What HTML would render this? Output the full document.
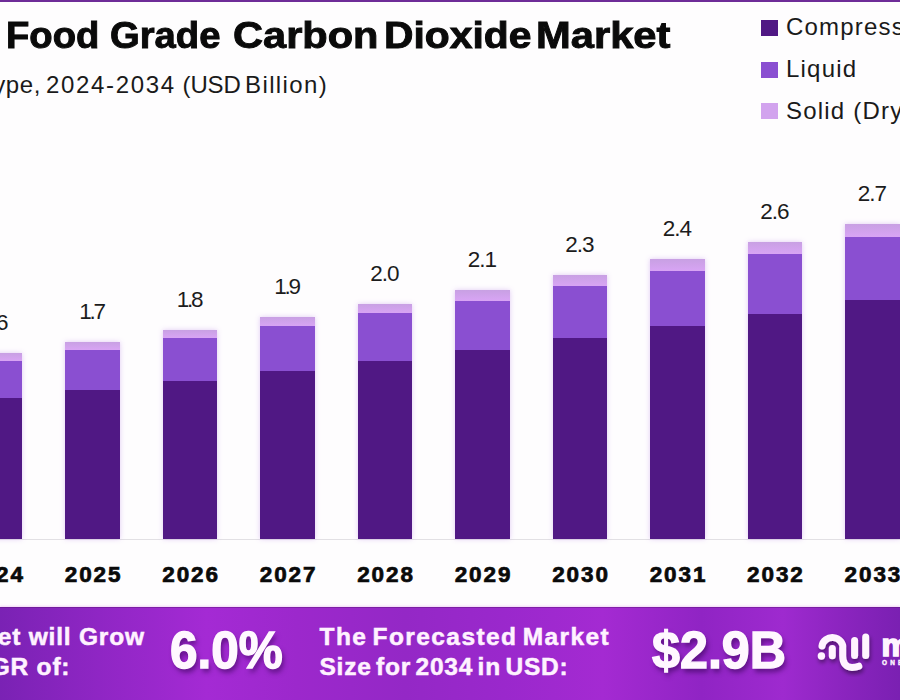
<!DOCTYPE html>
<html><head><meta charset="utf-8">
<style>
html,body{margin:0;padding:0;}
body{width:900px;height:700px;overflow:hidden;position:relative;background:#fefdfe;font-family:"Liberation Sans",sans-serif;}
.topline{position:absolute;left:0;top:0;width:900px;height:2px;background:#6e2c98;}
.title{position:absolute;left:6px;top:17.5px;font-size:36px;line-height:36px;font-weight:bold;color:#0a0a0a;white-space:nowrap;transform-origin:0 0;-webkit-text-stroke:0.9px #0a0a0a;}
.sub{position:absolute;left:-25.4px;top:73.2px;font-size:24px;line-height:24px;color:#1a1a1a;letter-spacing:0.9px;white-space:nowrap;}
.leg{position:absolute;left:786px;font-size:24px;line-height:24px;color:#1a1a1a;white-space:nowrap;letter-spacing:1.2px;}
.sq{position:absolute;left:761px;width:17px;height:16px;}
.seg{position:absolute;width:54.5px;}
.sh{box-shadow:0 0 5px rgba(190,140,230,0.45);}
.val{position:absolute;width:100px;text-align:center;font-size:22.5px;line-height:22.5px;color:#1c1c1c;letter-spacing:-2px;white-space:nowrap;}
.yr{position:absolute;width:100px;text-align:center;font-size:22.5px;line-height:22.5px;font-weight:bold;color:#0a0a0a;letter-spacing:1.9px;white-space:nowrap;-webkit-text-stroke:0.7px #0a0a0a;}
.axis{position:absolute;left:0;top:539px;width:900px;height:1px;background:#e2e0e4;}
.banner{position:absolute;left:0;top:607px;width:900px;height:93px;box-shadow:inset 0 1px 0 rgba(90,20,120,0.45),0 -1px 2px rgba(230,170,240,0.5);
 background:linear-gradient(90deg,#7a22b4 0%,#8f26c4 11%,#a42ad4 23%,#9c28cc 33%,#9428c6 45%,#9a28cc 56%,#a42ad2 67%,#9024c4 78%,#9e2acf 87%,#8a24be 94%,#7a20b2 100%);}
.btxt{position:absolute;font-size:24.5px;line-height:24.5px;font-weight:bold;color:#fff2ff;white-space:nowrap;letter-spacing:0.3px;-webkit-text-stroke:0.5px #fff2ff;}
.big{position:absolute;font-size:51px;line-height:51px;font-weight:bold;color:#fff8ff;white-space:nowrap;-webkit-text-stroke:1.4px #fff8ff;text-shadow:2px 4px 5px rgba(50,0,80,0.6);}
</style></head><body>
<div class="topline"></div>
<div class="title" style="left:6.18px;transform:scaleX(1.0619)">Food</div><div class="title" style="left:109.64px;transform:scaleX(1.0618)">Grade</div><div class="title" style="left:232.85px;transform:scaleX(1.1545)">Carbon</div><div class="title" style="left:383.73px;transform:scaleX(1.1339)">Dioxide</div><div class="title" style="left:535.68px;transform:scaleX(1.1579)">Market</div>
<div class="sub" style="left:auto;right:859px;text-align:right;letter-spacing:0.6px">Type,</div><div class="sub" style="left:46px;letter-spacing:1.65px">2024-2034</div><div class="sub" style="left:182.5px;letter-spacing:-0.1px">(USD</div><div class="sub" style="left:245px;letter-spacing:1.4px">Billion)</div>
<div class="sq" style="top:20.4px;background:#501884"></div>
<div class="sq" style="top:62.2px;background:#8a4fd1"></div>
<div class="sq" style="top:103.2px;background:#d2a3ee"></div>
<div class="leg" style="top:15.0px">Compressed Gas</div>
<div class="leg" style="top:56.7px">Liquid</div>
<div class="leg" style="top:98.5px">Solid (Dry Ice)</div>
<div class="axis"></div>
<div class="seg sh" style="left:-32.1px;top:353px;height:186.0px;background:linear-gradient(#c8a0e3,#d8a4f4 8.0px)"></div>
<div class="seg" style="left:-32.1px;top:361px;height:178.0px;background:#8a4fd1"></div>
<div class="seg" style="left:-32.1px;top:398px;height:141.0px;background:#501884"></div>
<div class="val" style="left:-56.0px;top:312.0px;letter-spacing:-2.2px">1.6</div>
<div class="yr" style="left:-53.9px;top:564.0px">2024</div>
<div class="seg sh" style="left:65.4px;top:342px;height:197.0px;background:linear-gradient(#c8a0e3,#d8a4f4 8.0px)"></div>
<div class="seg" style="left:65.4px;top:350px;height:189.0px;background:#8a4fd1"></div>
<div class="seg" style="left:65.4px;top:389.6px;height:149.4px;background:#501884"></div>
<div class="val" style="left:41.5px;top:301.0px;letter-spacing:-2.2px">1.7</div>
<div class="yr" style="left:43.6px;top:564.0px">2025</div>
<div class="seg sh" style="left:162.8px;top:330px;height:209.0px;background:linear-gradient(#c8a0e3,#d8a4f4 8.0px)"></div>
<div class="seg" style="left:162.8px;top:338px;height:201.0px;background:#8a4fd1"></div>
<div class="seg" style="left:162.8px;top:380.5px;height:158.5px;background:#501884"></div>
<div class="val" style="left:139.0px;top:289.0px;letter-spacing:-2.2px">1.8</div>
<div class="yr" style="left:141.1px;top:564.0px">2026</div>
<div class="seg sh" style="left:260.3px;top:317.3px;height:221.7px;background:linear-gradient(#c8a0e3,#d8a4f4 9.0px)"></div>
<div class="seg" style="left:260.3px;top:326.3px;height:212.7px;background:#8a4fd1"></div>
<div class="seg" style="left:260.3px;top:370.5px;height:168.5px;background:#501884"></div>
<div class="val" style="left:236.5px;top:276.3px;letter-spacing:-2.2px">1.9</div>
<div class="yr" style="left:238.6px;top:564.0px">2027</div>
<div class="seg sh" style="left:357.8px;top:304px;height:235.0px;background:linear-gradient(#c8a0e3,#d8a4f4 9.0px)"></div>
<div class="seg" style="left:357.8px;top:313px;height:226.0px;background:#8a4fd1"></div>
<div class="seg" style="left:357.8px;top:361px;height:178.0px;background:#501884"></div>
<div class="val" style="left:334.5px;top:263.0px;letter-spacing:-1.0px">2.0</div>
<div class="yr" style="left:336.0px;top:564.0px">2028</div>
<div class="seg sh" style="left:455.3px;top:289.6px;height:249.4px;background:linear-gradient(#c8a0e3,#d8a4f4 10.9px)"></div>
<div class="seg" style="left:455.3px;top:300.5px;height:238.5px;background:#8a4fd1"></div>
<div class="seg" style="left:455.3px;top:349.7px;height:189.3px;background:#501884"></div>
<div class="val" style="left:432.0px;top:248.6px;letter-spacing:-1.0px">2.1</div>
<div class="yr" style="left:433.5px;top:564.0px">2029</div>
<div class="seg sh" style="left:552.7px;top:274.7px;height:264.3px;background:linear-gradient(#c8a0e3,#d8a4f4 10.9px)"></div>
<div class="seg" style="left:552.7px;top:285.6px;height:253.4px;background:#8a4fd1"></div>
<div class="seg" style="left:552.7px;top:337.8px;height:201.2px;background:#501884"></div>
<div class="val" style="left:529.5px;top:233.7px;letter-spacing:-1.0px">2.3</div>
<div class="yr" style="left:531.0px;top:564.0px">2030</div>
<div class="seg sh" style="left:650.2px;top:258.5px;height:280.5px;background:linear-gradient(#c8a0e3,#d8a4f4 12.1px)"></div>
<div class="seg" style="left:650.2px;top:270.6px;height:268.4px;background:#8a4fd1"></div>
<div class="seg" style="left:650.2px;top:326px;height:213.0px;background:#501884"></div>
<div class="val" style="left:627.0px;top:217.5px;letter-spacing:-1.0px">2.4</div>
<div class="yr" style="left:628.5px;top:564.0px">2031</div>
<div class="seg sh" style="left:747.7px;top:242.3px;height:296.7px;background:linear-gradient(#c8a0e3,#d8a4f4 11.7px)"></div>
<div class="seg" style="left:747.7px;top:254px;height:285.0px;background:#8a4fd1"></div>
<div class="seg" style="left:747.7px;top:313.5px;height:225.5px;background:#501884"></div>
<div class="val" style="left:724.4px;top:201.3px;letter-spacing:-1.0px">2.6</div>
<div class="yr" style="left:725.9px;top:564.0px">2032</div>
<div class="seg sh" style="left:845.2px;top:224px;height:315.0px;background:linear-gradient(#c8a0e3,#d8a4f4 12.6px)"></div>
<div class="seg" style="left:845.2px;top:236.6px;height:302.4px;background:#8a4fd1"></div>
<div class="seg" style="left:845.2px;top:300px;height:239.0px;background:#501884"></div>
<div class="val" style="left:821.9px;top:183.0px;letter-spacing:-1.0px">2.7</div>
<div class="yr" style="left:823.4px;top:564.0px">2033</div>
<div class="banner"></div>
<div class="btxt" style="right:755.2px;text-align:right;top:625.0px;letter-spacing:0.8px">The Market will Grow</div>
<div class="btxt" style="right:829.7px;text-align:right;top:655.3px;letter-spacing:0.8px">At the CAGR of:</div>
<div class="big" style="left:169.5px;top:624.8px;transform:scaleX(0.97);transform-origin:0 0;">6.0%</div>
<div class="btxt" style="left:319.5px;top:625.0px;letter-spacing:1.42px;word-spacing:-3px">The Forecasted Market</div>
<div class="btxt" style="left:319.5px;top:655.3px;letter-spacing:0.75px;word-spacing:-3px">Size for 2034 in USD:</div>
<div class="big" style="left:652px;top:624.8px;transform:scaleX(0.985);transform-origin:0 0;">$2.9B</div>
<svg class="logo" width="90" height="60" viewBox="0 0 90 60" style="position:absolute;left:810px;top:620px;">
<defs><filter id="ls" x="-30%" y="-30%" width="160%" height="160%"><feGaussianBlur in="SourceAlpha" stdDeviation="2"/><feOffset dx="1" dy="3"/><feComponentTransfer><feFuncA type="linear" slope="0.45"/></feComponentTransfer><feMerge><feMergeNode/><feMergeNode in="SourceGraphic"/></feMerge></filter></defs>
<g filter="url(#ls)" fill="none" stroke="#fff4ff" stroke-width="7" stroke-linecap="round">
<circle cx="11.4" cy="36" r="3.7" fill="#fff4ff" stroke="none"/>
<path d="M12 26 A10.35 9.6 0 0 1 32.7 28.4 L32.7 36 C32.7 43.5 36.5 47.4 42 47.4 C44.8 47.4 47 46.9 48.8 46.2"/>
<line x1="22.3" y1="28.5" x2="22.3" y2="35.8"/>
<line x1="44.6" y1="20.4" x2="44.6" y2="35.5"/>
<line x1="55.7" y1="17.1" x2="55.7" y2="35.5"/>
</g>
<text x="71.5" y="35.5" font-family="Liberation Sans" font-weight="bold" font-size="32" fill="#fff4ff" stroke="#fff4ff" stroke-width="1.6">m</text>
<text x="72" y="44.5" font-family="Liberation Sans" font-weight="bold" font-size="6.4" letter-spacing="3.2" fill="#fff4ff" stroke="#fff4ff" stroke-width="0.4">ONE</text>
</svg>
</body></html>
